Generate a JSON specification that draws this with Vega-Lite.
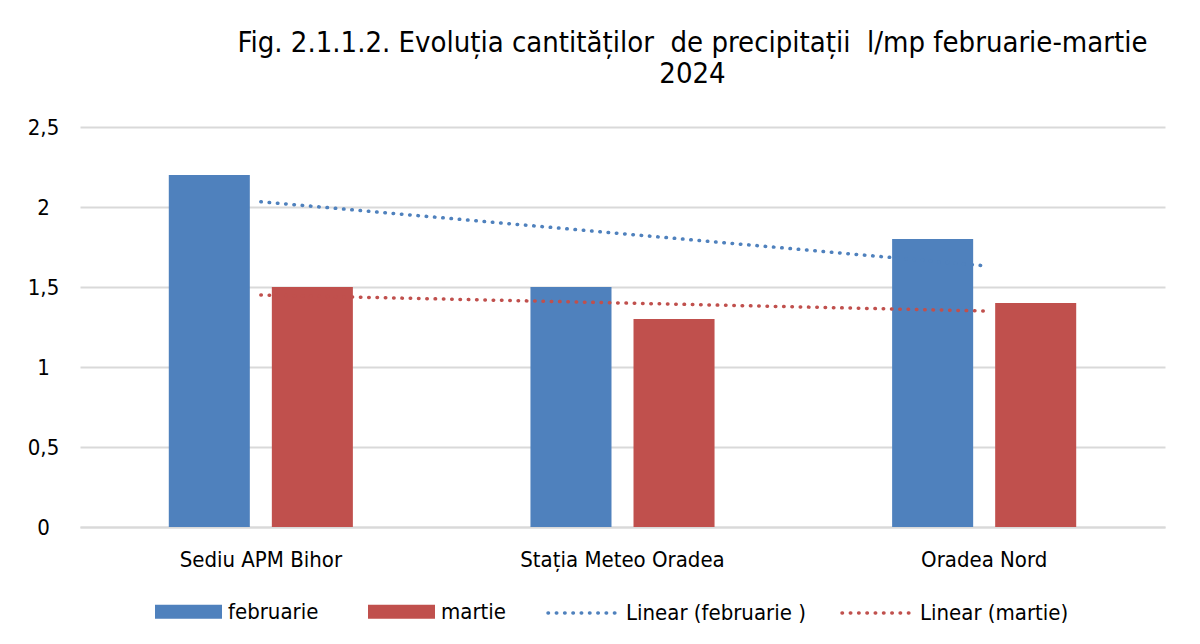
{
  "$schema": "https://vega.github.io/schema/vega-lite/v6.json",
  "width": 1085,
  "height": 400,
  "autosize": {"type": "none"},
  "padding": {"left": 80, "top": 127, "right": 35, "bottom": 117},
  "background": "white",
  "title": {
    "text": ["Fig. 2.1.1.2. Evoluția cantităților\u00a0 de precipitații\u00a0 l/mp februarie-martie", "2024"],
    "anchor": "middle",
    "frame": "group",
    "dx": 70,
    "offset": 27,
    "font": "DejaVu Sans Condensed",
    "fontSize": 29,
    "fontWeight": "normal",
    "color": "#000000",
    "lineHeight": 31,
    "limit": 0
  },
  "config": {
    "view": {"stroke": null},
    "font": "DejaVu Sans Condensed",
    "axis": {"labelFont": "DejaVu Sans Condensed", "labelColor": "#000000", "labelFontSize": 22, "labelLimit": 0, "ticks": false, "title": null},
    "legend": {"labelFont": "DejaVu Sans Condensed", "labelColor": "#000000", "labelFontSize": 22, "labelLimit": 0, "title": null, "padding": 0}
  },
  "datasets": {
    "bars": [
      {"statie": "Sediu APM Bihor", "luna": "februarie", "valoare": 2.2},
      {"statie": "Sediu APM Bihor", "luna": "martie", "valoare": 1.5},
      {"statie": "Stația Meteo Oradea", "luna": "februarie", "valoare": 1.5},
      {"statie": "Stația Meteo Oradea", "luna": "martie", "valoare": 1.3},
      {"statie": "Oradea Nord", "luna": "februarie", "valoare": 1.8},
      {"statie": "Oradea Nord", "luna": "martie", "valoare": 1.4}
    ],
    "trend": [
      {"statie": "Sediu APM Bihor", "serie": "Linear (februarie )", "valoare": 2.033},
      {"statie": "Oradea Nord", "serie": "Linear (februarie )", "valoare": 1.633},
      {"statie": "Sediu APM Bihor", "serie": "Linear (martie)", "valoare": 1.45},
      {"statie": "Oradea Nord", "serie": "Linear (martie)", "valoare": 1.35}
    ]
  },
  "encoding": {
    "x": {
      "field": "statie",
      "type": "nominal",
      "sort": ["Sediu APM Bihor", "Stația Meteo Oradea", "Oradea Nord"],
      "scale": {"domain": ["Sediu APM Bihor", "Stația Meteo Oradea", "Oradea Nord"], "paddingInner": 0.491, "paddingOuter": 0.2455},
      "axis": {"labelAngle": 0, "labelPadding": 22, "domain": true, "domainColor": "#d9d9d9", "domainWidth": 2, "grid": false}
    },
    "y": {
      "field": "valoare",
      "type": "quantitative",
      "scale": {"domain": [0, 2.5], "nice": false},
      "axis": {
        "values": [0, 0.5, 1, 1.5, 2, 2.5],
        "labelExpr": "replace(format(datum.value, '~g'), '.', ',')",
        "labelAlign": "center",
        "labelPadding": 37,
        "domain": false,
        "grid": true,
        "gridColor": "#d9d9d9",
        "gridWidth": 2
      }
    }
  },
  "layer": [
    {
      "data": {"name": "bars"},
      "mark": {"type": "bar"},
      "encoding": {
        "xOffset": {"field": "luna", "type": "nominal", "scale": {"paddingInner": 0.2136, "paddingOuter": 0}},
        "fill": {
          "field": "luna",
          "type": "nominal",
          "scale": {"domain": ["februarie", "martie"], "range": ["#4F81BD", "#C0504D"]},
          "legend": {
            "orient": "none",
            "direction": "horizontal",
            "legendX": 75,
            "legendY": 451,
            "symbolType": "M-1,-0.21H1V0.21H-1Z",
            "symbolSize": 4489,
            "symbolStrokeWidth": 0,
            "labelOffset": 6,
            "columnPadding": 49
          }
        }
      }
    },
    {
      "data": {"name": "trend"},
      "mark": {"type": "line", "strokeWidth": 3.5, "strokeDash": [0.5, 7.8], "strokeCap": "round"},
      "encoding": {
        "stroke": {
          "field": "serie",
          "type": "nominal",
          "scale": {"domain": ["Linear (februarie )", "Linear (martie)"], "range": ["#4F81BD", "#C0504D"]},
          "legend": {
            "orient": "none",
            "direction": "horizontal",
            "legendX": 466,
            "legendY": 448,
            "symbolType": "stroke",
            "symbolSize": 5184,
            "symbolStrokeWidth": 3.5,
            "symbolDash": [0.5, 7.8],
            "labelOffset": 4,
            "columnPadding": 29,
            "encode": {"symbols": {"update": {"strokeCap": {"value": "round"}}}}
          }
        }
      }
    }
  ]
}
